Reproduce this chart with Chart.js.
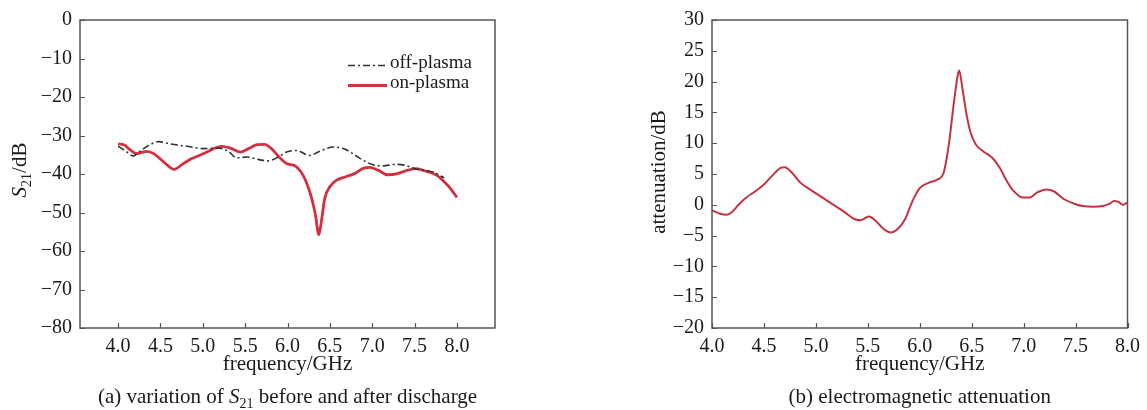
<!DOCTYPE html>
<html>
<head>
<meta charset="utf-8">
<script src="https://cdn.jsdelivr.net/npm/chart.js@4.4.1/dist/chart.umd.min.js"></script>
<style>
  html,body{margin:0;padding:0;background:#fff;}
  #wrap{position:relative;width:1147px;height:410px;background:#fff;overflow:hidden;}
  canvas{position:absolute;top:0;}
</style>
</head>
<body>
<div id="wrap">
  <canvas id="c1" width="570" height="410" style="left:0;width:570px;height:410px"></canvas>
  <canvas id="c2" width="570" height="410" style="left:577px;width:570px;height:410px"></canvas>
</div>
<script>
// ---------- data (a) S21 ----------
const freqOn = [4.00,4.07,4.125,4.22,4.34,4.42,4.54,4.66,4.77,4.87,5.01,5.13,5.22,5.32,5.44,5.54,5.64,5.73,5.81,5.91,5.99,6.09,6.16,6.22,6.28,6.33,6.37,6.40,6.44,6.50,6.58,6.69,6.79,6.91,6.97,7.07,7.18,7.30,7.42,7.52,7.64,7.76,7.85,7.93,8.00];
const s21On  = [-32.2,-32.4,-33.4,-34.7,-34.1,-34.7,-36.9,-38.8,-37.3,-36.0,-34.7,-33.4,-32.8,-33.2,-34.3,-33.4,-32.4,-32.3,-33.4,-35.8,-37.3,-37.9,-39.5,-42.0,-45.9,-50.6,-55.8,-52.3,-46.3,-43.3,-41.6,-40.7,-39.9,-38.4,-38.3,-39.0,-40.2,-39.9,-39.0,-38.6,-39.3,-40.3,-42.0,-43.9,-46.1];
const freqOff = [4.00,4.08,4.18,4.27,4.36,4.48,4.62,4.81,5.01,5.20,5.30,5.40,5.52,5.65,5.77,5.89,5.99,6.11,6.26,6.38,6.54,6.66,6.77,6.89,7.01,7.13,7.26,7.38,7.50,7.62,7.73,7.85];
const s21Off  = [-32.8,-33.9,-35.3,-33.9,-32.6,-31.6,-32.2,-32.8,-33.4,-33.3,-34.1,-35.8,-35.6,-36.2,-36.6,-35.6,-34.3,-33.9,-35.2,-34.1,-33.0,-33.4,-34.7,-36.4,-37.6,-37.9,-37.5,-37.7,-38.6,-39.0,-39.6,-41.0];
const xTicksA = [4.0,4.5,5.0,5.5,6.0,6.5,7.0,7.5,8.0];
const yTicksA = [0,-10,-20,-30,-40,-50,-60,-70,-80];
const seriesNamesA = ['off-plasma','on-plasma'];

// ---------- data (b) attenuation ----------
const freqAtt = [4.00,4.07,4.14,4.19,4.26,4.33,4.40,4.50,4.59,4.66,4.70,4.77,4.85,4.96,5.06,5.17,5.27,5.37,5.43,5.51,5.57,5.65,5.72,5.79,5.86,5.93,6.00,6.09,6.17,6.23,6.28,6.33,6.37,6.38,6.41,6.45,6.49,6.54,6.61,6.70,6.77,6.83,6.90,6.99,7.06,7.13,7.22,7.29,7.39,7.50,7.57,7.67,7.76,7.83,7.87,7.91,7.96,8.00];
const attVals = [-0.9,-1.4,-1.6,-1.2,0.1,1.2,2.0,3.3,4.9,6.0,6.1,5.2,3.6,2.3,1.2,0.0,-1.1,-2.3,-2.5,-1.9,-2.5,-3.9,-4.5,-3.9,-2.3,0.6,2.7,3.6,4.1,5.2,9.8,16.8,21.4,21.8,19.0,14.7,11.7,9.8,8.7,7.6,6.0,4.1,2.3,1.2,1.2,2.0,2.5,2.2,0.9,0.1,-0.2,-0.3,-0.2,0.2,0.6,0.5,0.0,0.4];
const xTicksB = [4.0,4.5,5.0,5.5,6.0,6.5,7.0,7.5,8.0];
const yTicksB = [30,25,20,15,10,5,0,-5,-10,-15,-20];

// ---------- helpers ----------
const FAM = "'Liberation Serif','Times New Roman',serif";
const TXT = '#1a1a1a';
const pts = (xs, ys) => xs.map((x,i)=>({x:x, y:ys[i]}));
const fmtNum = v => (v < 0 ? '\u2212' + Math.abs(v) : String(v));

function drawRich(ctx, parts, x, y, size){
  let w = 0;
  const fonts = parts.map(p=>{
    const s = p.sub ? Math.round(size*0.68) : size;
    const f = (p.italic?'italic ':'') + s + 'px ' + FAM;
    ctx.font = f;
    const pw = ctx.measureText(p.t).width;
    w += pw;
    return {f, pw, s};
  });
  let cx = x - w/2;
  ctx.textBaseline = 'alphabetic';
  ctx.textAlign = 'left';
  parts.forEach((p,i)=>{
    ctx.font = fonts[i].f;
    ctx.fillText(p.t, cx, y + (p.sub ? size*0.22 : 0));
    cx += fonts[i].pw;
  });
}

const framePlugin = {
  id:'frame',
  beforeDatasetsDraw(chart){
    const {ctx, chartArea:a, scales} = chart;
    ctx.save();
    ctx.strokeStyle = '#555';
    ctx.lineWidth = 1.5;
    ctx.strokeRect(a.left, a.top, a.right-a.left, a.bottom-a.top);
    ctx.lineWidth = 1.2;
    ctx.beginPath();
    scales.x.ticks.forEach(t=>{
      const px = Math.round(scales.x.getPixelForValue(t.value))+0.5;
      ctx.moveTo(px, a.bottom); ctx.lineTo(px, a.bottom-5);
    });
    scales.y.ticks.forEach(t=>{
      const py = Math.round(scales.y.getPixelForValue(t.value))+0.5;
      ctx.moveTo(a.left, py); ctx.lineTo(a.left+5, py);
    });
    ctx.stroke();
    ctx.restore();
  },
  afterDraw(chart, args, opts){
    const {ctx, chartArea:a} = chart;
    ctx.save();
    ctx.fillStyle = TXT;
    const cxm = (a.left + a.right)/2;
    drawRich(ctx, opts.xTitle, cxm, 370, 21);
    drawRich(ctx, opts.caption, cxm, 403, 21);
    ctx.save();
    ctx.translate(opts.yTitleX, opts.yTitleY);
    ctx.rotate(-Math.PI/2);
    drawRich(ctx, opts.yTitle, 0, 0, 21);
    ctx.restore();
    if (opts.legend){
      const L = opts.legend;
      chart.data.datasets.forEach((ds,i)=>{
        const ly = L.y + i*L.step;
        ctx.save();
        ctx.strokeStyle = ds.borderColor;
        ctx.lineWidth = ds.borderWidth;
        ctx.setLineDash(ds.borderDash || []);
        ctx.beginPath();
        ctx.moveTo(L.x, ly + 2.5); ctx.lineTo(L.x + L.len, ly + 2.5);
        ctx.stroke();
        ctx.restore();
        ctx.font = L.size + 'px ' + FAM;
        ctx.textAlign = 'left';
        ctx.textBaseline = 'middle';
        ctx.fillStyle = TXT;
        ctx.fillText(ds.label, L.x + L.len + 3, ly);
      });
    }
    ctx.restore();
  }
};

function axisCfg(min, max, ticksArr, fixed, isX, size){
  return {
    type:'linear', min:min, max:max,
    grid:{display:false, drawTicks:false},
    border:{display:false},
    afterBuildTicks: s => { s.ticks = ticksArr.map(v=>({value:v})); },
    afterFit: s => { if (isX) s.height = fixed; else s.width = fixed; },
    ticks:{
      autoSkip:false, maxRotation:0,
      padding: isX ? 7 : 8,
      color:TXT,
      font:{family:FAM, size:size},
      callback: v => isX ? Number(v).toFixed(1) : fmtNum(v)
    }
  };
}

Chart.register(framePlugin);

// ---------- chart (a) ----------
new Chart(document.getElementById('c1'), {
  type:'line',
  data:{datasets:[
    {label:seriesNamesA[0], data:pts(freqOff, s21Off), borderColor:'#2e3433', borderWidth:1.6,
     borderDash:[7,3,2,3], pointRadius:0, fill:false, cubicInterpolationMode:'monotone'},
    {label:seriesNamesA[1], data:pts(freqOn, s21On), borderColor:'#d42f3c', borderWidth:2.8,
     pointRadius:0, fill:false, cubicInterpolationMode:'monotone'}
  ]},
  options:{
    responsive:false, animation:false, events:[],
    layout:{padding:{left:0, right:75, top:18, bottom:0}},
    plugins:{legend:{display:false}, tooltip:{enabled:false},
      frame:{
        xTitle:[{t:'frequency/GHz'}],
        caption:[{t:'(a) variation of '},{t:'S',italic:true},{t:'21',sub:true},{t:' before and after discharge'}],
        yTitle:[{t:'S',italic:true},{t:'21',sub:true},{t:'/dB'}],
        yTitleX:26, yTitleY:170,
        legend:{x:348, y:63, step:20, len:39, size:19}
      }
    },
    scales:{
      x: axisCfg(3.55, 8.45, xTicksA, 82, true, 20),
      y: axisCfg(-80, 0, yTicksA, 80, false, 20)
    }
  }
});

// ---------- chart (b) ----------
new Chart(document.getElementById('c2'), {
  type:'line',
  data:{datasets:[
    {label:'attenuation', data:pts(freqAtt, attVals), borderColor:'#c4343f', borderWidth:2,
     pointRadius:0, fill:false, cubicInterpolationMode:'monotone'}
  ]},
  options:{
    responsive:false, animation:false, events:[],
    layout:{padding:{left:0, right:19, top:18, bottom:0}},
    plugins:{legend:{display:false}, tooltip:{enabled:false},
      frame:{
        xTitle:[{t:'frequency/GHz'}],
        caption:[{t:'(b) electromagnetic attenuation'}],
        yTitle:[{t:'attenuation/dB'}],
        yTitleX:88, yTitleY:172,
        legend:null
      }
    },
    scales:{
      x: axisCfg(4, 8, xTicksB, 82, true, 20),
      y: axisCfg(-20, 30, yTicksB, 135, false, 20)
    }
  }
});
</script>
</body>
</html>
